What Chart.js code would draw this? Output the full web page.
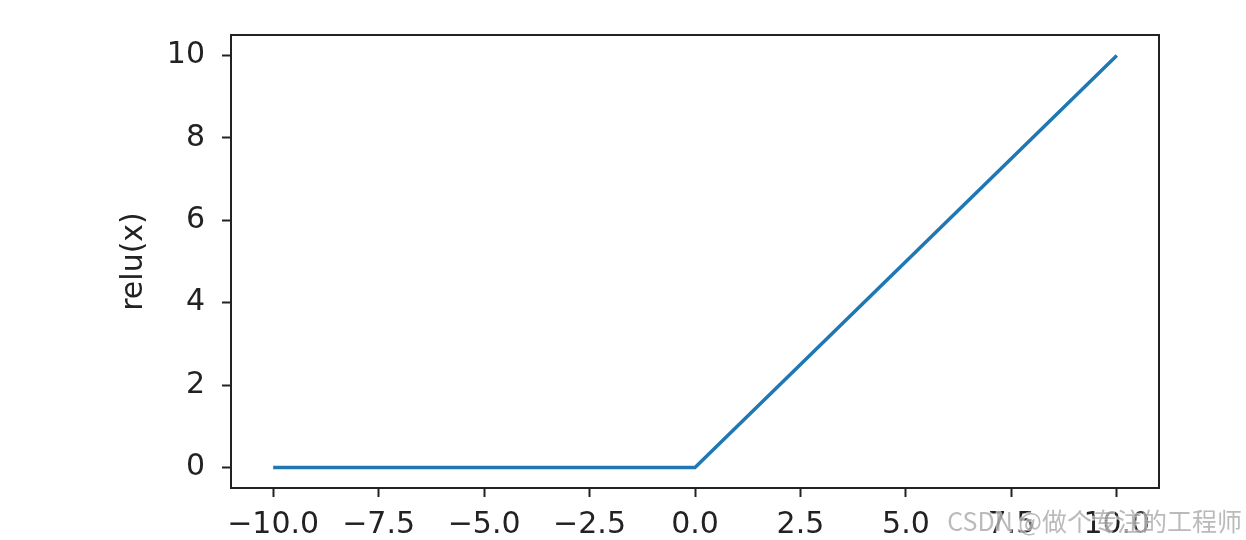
<!DOCTYPE html>
<html>
<head>
<meta charset="utf-8">
<script src="https://cdn.jsdelivr.net/npm/chart.js@4.4.1/dist/chart.umd.min.js"></script>
<style>
  html, body { margin: 0; padding: 0; background: #fff; }
  #wrap { width: 1246px; height: 540px; }
</style>
</head>
<body>
<div id="wrap"><canvas id="myChart"></canvas></div>
<script>
// relu(x) breakpoints
const xValues = [-10, 0, 10];
const yValues = [0, 0, 10];
const xTicks = [-10, -7.5, -5, -2.5, 0, 2.5, 5, 7.5, 10];
const yTicks = [0, 2, 4, 6, 8, 10];
const yTitle = 'relu(x)';
const watermark = 'CSDN @做个专注的工程师';

const fuente = "'DejaVu Sans', sans-serif";

const marco = {
    id: 'marco',
    afterDatasetsDraw(chart) {
        const a = chart.chartArea;
        const ctx = chart.ctx;
        ctx.save();
        ctx.strokeStyle = '#222';
        ctx.lineWidth = 2;
        ctx.strokeRect(a.left, a.top, a.right - a.left, a.bottom - a.top);
        ctx.restore();
    },
    afterDraw(chart) {
        const ctx = chart.ctx;
        ctx.save();
        ctx.font = "25px 'Noto Sans CJK SC', sans-serif";
        ctx.textAlign = 'right';
        ctx.textBaseline = 'middle';
        ctx.lineWidth = 3;
        ctx.strokeStyle = 'rgba(255,255,255,0.6)';
        ctx.strokeText(watermark, 1242, 521);
        ctx.fillStyle = 'rgba(140,140,140,0.6)';
        ctx.fillText(watermark, 1242, 521);
        ctx.restore();
    }
};

const ctx = document.getElementById('myChart').getContext('2d');
const myChart = new Chart(ctx, {
    type: 'line',
    data: {
        datasets: [{
            data: xValues.map((x, i) => ({ x: x, y: yValues[i] })),
            borderColor: '#1f77b4',
            borderWidth: 3.5,
            pointRadius: 0,
            fill: false,
            tension: 0
        }]
    },
    options: {
        responsive: true,
        maintainAspectRatio: false,
        animation: false,
        layout: { padding: { left: 116, right: 87, top: 34, bottom: 0 } },
        plugins: { legend: { display: false }, tooltip: { enabled: false } },
        scales: {
            x: {
                type: 'linear',
                min: -11,
                max: 11,
                afterBuildTicks: axis => { axis.ticks = xTicks.map(v => ({ value: v })); },
                afterFit: axis => { axis.height = 52; },
                grid: { drawOnChartArea: false, drawTicks: true, tickLength: 9, tickColor: '#222', tickWidth: 2 },
                border: { display: false },
                ticks: {
                    color: '#222',
                    font: { family: fuente, size: 30 },
                    padding: 10,
                    maxRotation: 0,
                    autoSkip: false,
                    callback: v => v.toFixed(1).replace('-', '\u2212')
                }
            },
            y: {
                type: 'linear',
                min: -0.5,
                max: 10.5,
                afterBuildTicks: axis => { axis.ticks = yTicks.map(v => ({ value: v })); },
                afterFit: axis => { axis.width = 115; },
                grid: { drawOnChartArea: false, drawTicks: true, tickLength: 9, tickColor: '#222', tickWidth: 2 },
                border: { display: false },
                title: {
                    display: true,
                    text: yTitle,
                    color: '#222',
                    font: { family: fuente, size: 30 },
                    padding: 0
                },
                ticks: {
                    color: '#222',
                    font: { family: fuente, size: 30 },
                    padding: 17,
                    autoSkip: false,
                    callback: v => String(v)
                }
            }
        }
    },
    plugins: [marco]
});
</script>
</body>
</html>
